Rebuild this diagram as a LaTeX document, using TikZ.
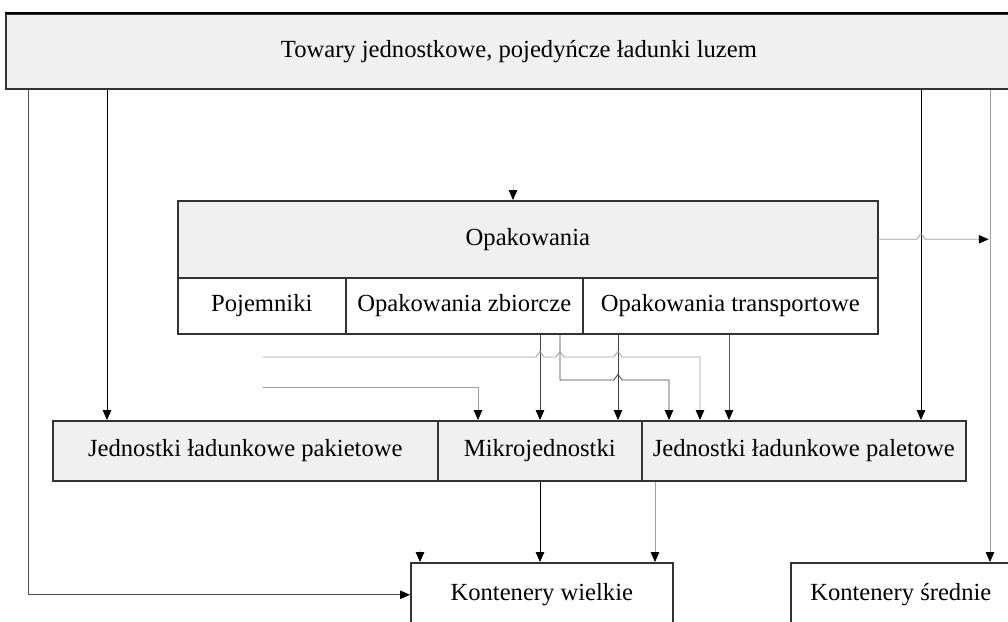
\documentclass[tikz,border=0pt]{standalone}
\usepackage{fontspec}
\setmainfont{Liberation Serif}
\usetikzlibrary{arrows.meta}
\definecolor{boxgray}{rgb}{0.94,0.94,0.94}
\definecolor{linegray}{rgb}{0.62,0.62,0.62}

\tikzset{
  blok/.style={draw=black!80, line width=1.1pt, fill=boxgray, inner sep=0pt,
    anchor=north west, font=\fontsize{17.5}{20}\selectfont},
  bialy/.style={blok, fill=white},
  strz/.style={-{Triangle[length=7pt,width=6pt,color=black]}, line width=0.6pt},
  jasna/.style={strz, draw=linegray},
}

\begin{document}
\begin{tikzpicture}[x=0.025cm, y=-0.025cm]
			\clip (0,0) rectangle (1008,621);

			% Boxes
			\node[blok, minimum width=25.65cm, minimum height=1.875cm] (towary) at (5,13) {Towary jednostkowe, pojedyńcze ładunki luzem};
			\draw[line width=1.6pt] (towary.north west) -- (towary.north east);
			\node[blok, minimum width=17.5cm, minimum height=1.925cm] (opak) at (177,200) {Opakowania};
			\node[bialy, minimum width=4.2cm, minimum height=1.4cm] (pojem) at (177,277) {Pojemniki};
			\node[bialy, minimum width=5.925cm, minimum height=1.4cm] (zbior) at (345,277) {Opakowania zbiorcze};
			\node[bialy, minimum width=7.375cm, minimum height=1.4cm] (transp) at (582,277) {Opakowania transportowe};
			\node[blok, minimum width=9.625cm, minimum height=1.5cm] (pakiet) at (52,420) {Jednostki ładunkowe pakietowe};
			\node[blok, minimum width=5.1cm, minimum height=1.5cm] (mikro) at (437,420) {Mikrojednostki};
			\node[blok, minimum width=8.1cm, minimum height=1.5cm] (palet) at (641,420) {Jednostki ładunkowe paletowe};
			\node[bialy, minimum width=6.55cm, minimum height=1.6cm] (wielkie) at (410,562) {Kontenery wielkie};
			\node[bialy, minimum width=5.5cm, minimum height=1.6cm] (srednie) at (790,562) {Kontenery średnie};

			% Columns of the connectors
			\foreach \n/\x in {lewa/28, pak/107, a/420, b/478, c/540, d/560, e/618, f/655, g/669, h/700, k/729, pal/921, sre/990}
			\coordinate (x\n) at (\x,0);
			\coordinate (gora) at (513,185);
			\coordinate (linia1) at (263,357);
			\coordinate (zakret) at (560,380);
			\coordinate (linia2) at (263,387);
			\coordinate (dol) at (420,550);

			% From the top box
			\draw[strz, draw=black!70] (towary.south -| xlewa) |- (wielkie.west);
			\draw[strz] (towary.south -| xpak) -- (pakiet.north -| xpak);
			\draw[strz] (towary.south -| xpal) -- (palet.north -| xpal);
			\draw[jasna] (towary.south -| xsre) -- (srednie.north -| xsre);
			\draw[strz, draw=linegray!50] (gora) -- (opak.north -| gora);
			\draw[jasna, shorten >=1pt] (opak.east) -- ([xshift=-3pt]opak.east -| xpal) -- ++(3pt,4pt) -- ++(3pt,-4pt) -- (opak.east -| xsre);

			% From the packages
			\draw[strz, draw=black!75] (zbior.south -| xc) -- (mikro.north -| xc);
			\draw[strz, draw=black!75] (zbior.south -| xd) -- (zakret) -- ([xshift=-3pt]zakret -| xe) -- ++(3pt,4pt) -- ++(3pt,-4pt) -- (zakret -| xg) -- (palet.north -| xg);
			\draw[strz, draw=black!75] (transp.south -| xe) -- (mikro.north -| xe);
			\draw[strz, draw=black!65] (transp.south -| xk) -- (palet.north -| xk);
			\draw[jasna] (linia1) -- ([xshift=-3pt]linia1 -| xc) -- ++(3pt,4pt) -- ++(3pt,-4pt)
				-- ([xshift=-3pt]linia1 -| xd) -- ++(3pt,4pt) -- ++(3pt,-4pt)
				-- ([xshift=-3pt]linia1 -| xe) -- ++(3pt,4pt) -- ++(3pt,-4pt)
				-- (linia1 -| xh) -- (palet.north -| xh);
			\draw[jasna] (linia2) -- (linia2 -| xb) -- (mikro.north -| xb);

			% Into the containers
			\draw[strz] (mikro.south -| xc) -- (wielkie.north -| xc);
			\draw[jasna] (palet.south -| xf) -- (wielkie.north -| xf);
			\draw[jasna, draw=linegray!40] (dol) -- (wielkie.north -| dol);
		\end{tikzpicture}
\end{document}
